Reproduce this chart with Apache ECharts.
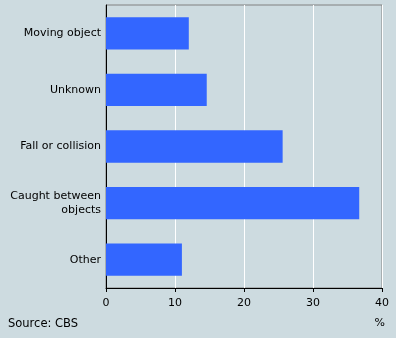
<!DOCTYPE html>
<html><head><meta charset="utf-8">
<script src="https://cdn.jsdelivr.net/npm/echarts@6/dist/echarts.min.js"></script>
<style>html,body{margin:0;padding:0;background:#cddbe0;}#c{width:396px;height:338px;}</style>
</head><body><div id="c"></div>
<script>
var categories = ["Moving object", "Unknown", "Fall or collision", "Caught between\nobjects", "Other"];
var values = [12.0, 14.6, 25.6, 36.7, 11.0];
var xTicks = [0, 10, 20, 30, 40];
var font = "DejaVu Sans";
var chart = echarts.init(document.getElementById('c'));
chart.setOption({
  backgroundColor: '#cddbe0',
  animation: false,
  grid: {left: 106, right: 14, top: 5, bottom: 50, show: true, borderColor: '#808080', borderWidth: 1, backgroundColor: 'transparent'},
  xAxis: {
    type: 'value', min: 0, max: 40, interval: 10,
    axisLine: {show: true, lineStyle: {color: '#000', width: 1}},
    axisTick: {show: true, length: 4, lineStyle: {color: '#000'}},
    axisLabel: {color: '#000', fontFamily: font, fontSize: 11, margin: 10},
    splitLine: {show: true, lineStyle: {color: '#ffffff', width: 1}}
  },
  yAxis: {
    type: 'category', data: categories, inverse: true,
    axisLine: {show: true, lineStyle: {color: '#000', width: 1}},
    axisTick: {show: false},
    axisLabel: {color: '#000', fontFamily: font, fontSize: 11, margin: 5, lineHeight: 14, align: 'right'}
  },
  series: [{
    type: 'bar', data: values, barCategoryGap: '43%',
    itemStyle: {color: '#3366ff'}
  }],
  graphic: [
    {type: 'text', left: 8, top: 318, style: {text: 'Source: CBS', fill: '#000', font: '11.5px "DejaVu Sans"'}},
    {type: 'text', right: 11, top: 318, style: {text: '%', fill: '#000', font: '11px "DejaVu Sans"'}}
  ]
});
</script></body></html>
